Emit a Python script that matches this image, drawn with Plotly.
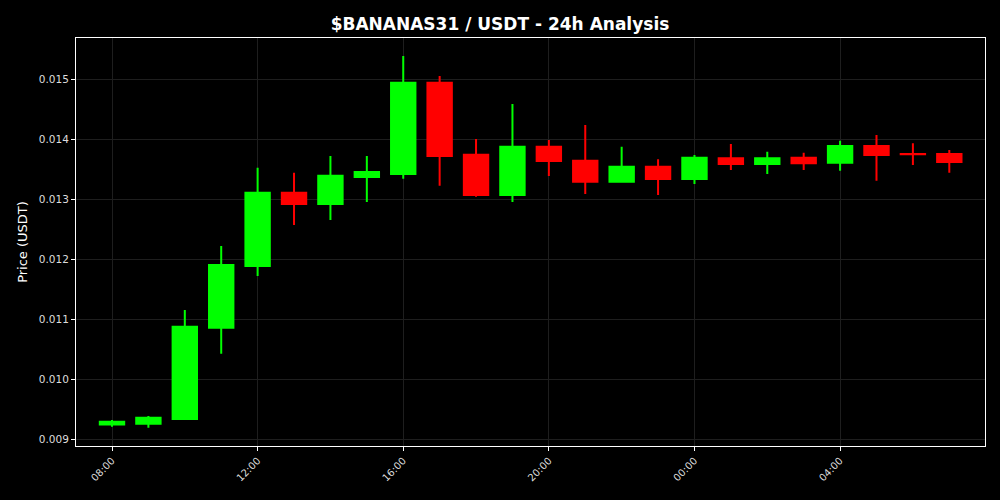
import plotly.graph_objects as go
import pandas as pd

times = pd.date_range("2024-01-01 08:00", periods=24, freq="h")
opens  = [0.00924, 0.009255, 0.009333, 0.010855, 0.011883, 0.013105, 0.012917, 0.013367,
          0.013417, 0.014938, 0.013738, 0.013067, 0.013872, 0.013638, 0.013288, 0.013538,
          0.013333, 0.013678, 0.013583, 0.013688, 0.013605, 0.013883, 0.013750, 0.013750]
closes = [0.009288, 0.009355, 0.010872, 0.011900, 0.013105, 0.012917, 0.013388, 0.013450,
          0.014938, 0.013717, 0.013067, 0.013872, 0.013633, 0.013288, 0.013538, 0.013333,
          0.013688, 0.013583, 0.013678, 0.013595, 0.013883, 0.013733, 0.013745, 0.013617]
highs  = [0.009317, 0.009383, 0.011150, 0.012217, 0.013522, 0.013438, 0.013717, 0.013717,
          0.015383, 0.015050, 0.014000, 0.014583, 0.013983, 0.014233, 0.013872, 0.013662,
          0.013733, 0.013917, 0.013788, 0.013772, 0.013972, 0.014067, 0.013928, 0.013817]
lows   = [0.009205, 0.009188, 0.009330, 0.010422, 0.011717, 0.012567, 0.012650, 0.012950,
          0.013338, 0.013222, 0.013038, 0.012950, 0.013383, 0.013083, 0.013272, 0.013067,
          0.013250, 0.013483, 0.013417, 0.013483, 0.013472, 0.013305, 0.013567, 0.013438]

fig = go.Figure(go.Candlestick(
    x=times, open=opens, high=highs, low=lows, close=closes,
    increasing=dict(line=dict(color="#00ff00", width=2), fillcolor="#00ff00"),
    decreasing=dict(line=dict(color="#ff0000", width=2), fillcolor="#ff0000"),
    whiskerwidth=0,
))

grid = "#1e1e1e"
fig.update_layout(
    width=1000, height=500,
    paper_bgcolor="black", plot_bgcolor="black",
    margin=dict(l=76, r=15, t=38, b=54),
    boxgap=0.33, boxgroupgap=0,
    showlegend=False,
    font=dict(family="DejaVu Sans", color="white", size=10),
    title=dict(text="<b>$BANANAS31 / USDT - 24h Analysis</b>", x=0.5, xanchor="center",
               y=0.952, yanchor="middle", font=dict(size=17, color="white", family="DejaVu Sans")),
    xaxis=dict(
        type="date", rangeslider=dict(visible=False),
        range=[pd.Timestamp("2024-01-01 07:00:40"), pd.Timestamp("2024-01-02 07:58:50")],
        dtick=4 * 3600 * 1000, tick0="2024-01-01 00:00", tickformat="%H:%M",
        tickangle=-45, ticks="outside", ticklen=4, tickcolor="white",
        showgrid=True, gridcolor=grid, gridwidth=1,
        showline=True, linecolor="white", linewidth=1, mirror=True,
        tickfont=dict(size=10, color="#dddddd"), zeroline=False,
    ),
    yaxis=dict(
        range=[0.0088833, 0.0156833], dtick=0.001, tick0=0.009, tickformat=".3f",
        ticks="outside", ticklen=4, tickcolor="white",
        showgrid=True, gridcolor=grid, gridwidth=1,
        showline=True, linecolor="white", linewidth=1, mirror=True,
        tickfont=dict(size=10.5, color="#dddddd"), zeroline=False,
        title=dict(text="Price (USDT)", font=dict(size=13, color="white"), standoff=8),
    ),
)

fig.write_html(
    "out.html",
    config={"displayModeBar": False},
    post_script="document.body.style.margin='0';document.body.style.background='black';",
)
